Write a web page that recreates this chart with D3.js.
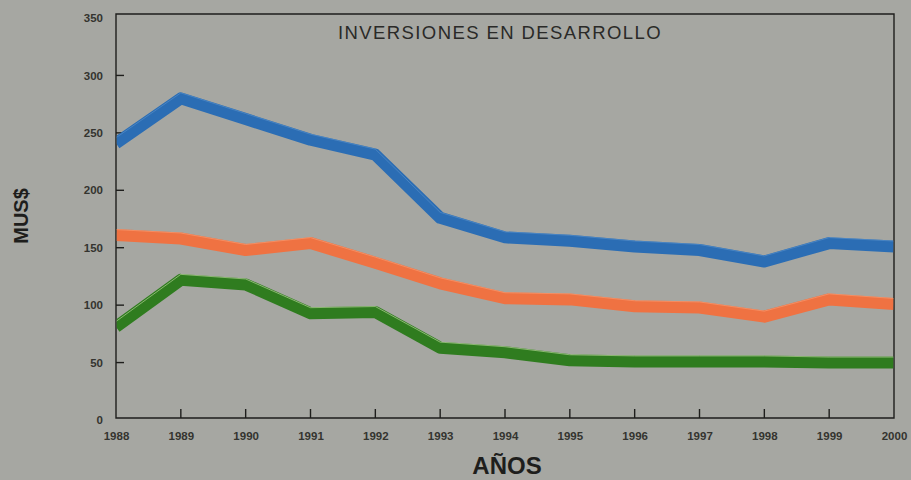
<!DOCTYPE html>
<html><head><meta charset="utf-8">
<script src="https://cdn.jsdelivr.net/npm/d3@7"></script>
<style>
html,body{margin:0;padding:0;background:#a6a7a2;}
svg{display:block;}
</style></head>
<body>
<svg id="chart" width="911" height="480"></svg>
<script>
const years = [1988,1989,1990,1991,1992,1993,1994,1995,1996,1997,1998,1999,2000];
const serieAzul    = [241,280,262,244,231,176,159,156,151,148,138,154,151];
const serieNaranja = [161,158,148,154,137,119,106,105,99,98,90,105,101];
const serieVerde   = [81,122,118,93,94,63,59,52,51,51,51,50,50];
const yTicks = [0,50,100,150,200,250,300,350];
const title = "INVERSIONES EN DESARROLLO";
const yLabel = "MUS$";
const xLabel = "AÑOS";

(function(){
const svg = d3.select("#chart");
const W = 911, H = 480;
svg.append("rect").attr("width",W).attr("height",H).attr("fill","#a6a7a2");

const pL = 116, pR = 894, pT = 14, pB = 418;
const x = d3.scaleLinear().domain([1988,2000]).range([pL,pR]);
const y = d3.scaleLinear().domain([0,350]).range([420,18]);

const ink = "#1e1e1c";
const font = "'Liberation Sans', Arial, sans-serif";

svg.append("path")
  .attr("d",`M${pL},${pT}H${pR}V${pB}H${pL}Z`)
  .attr("fill","none").attr("stroke",ink).attr("stroke-width",1.4);

const yAxis = d3.axisLeft(y).tickValues(yTicks).tickSize(0).tickPadding(13);
const gy = svg.append("g").attr("transform",`translate(${pL},0)`).call(yAxis);
gy.select(".domain").remove();
gy.selectAll("text").attr("font-family",font).attr("font-size",11.5).attr("font-weight","bold").attr("fill","#34342f");
svg.append("g").selectAll("line").data(yTicks.filter(v=>v>0 && v<350)).join("line")
  .attr("x1",pL).attr("x2",pL+8).attr("y1",d=>y(d)).attr("y2",d=>y(d))
  .attr("stroke",ink).attr("stroke-width",1.4);

const xAxis = d3.axisBottom(x).tickValues(years).tickFormat(d3.format("d")).tickSize(0).tickPadding(14);
const gx = svg.append("g").attr("transform",`translate(0,${pB})`).call(xAxis);
gx.select(".domain").remove();
gx.selectAll("text").attr("font-family",font).attr("font-size",11.5).attr("font-weight","bold").attr("fill","#34342f");
svg.append("g").selectAll("line").data(years.slice(1,-1)).join("line")
  .attr("x1",d=>x(d)).attr("x2",d=>x(d)).attr("y1",pB).attr("y2",pB-9)
  .attr("stroke",ink).attr("stroke-width",1.4);

const line = d3.line().x((d,i)=>x(years[i])).y(d=>y(d));
const series = [
  {v:serieAzul, c:"#2b6db4", hl:"#5b93cc"},
  {v:serieNaranja, c:"#ef7242", hl:"#f8a078"},
  {v:serieVerde, c:"#2f7c1f", hl:"#c8e0a8"}
];
svg.append("clipPath").attr("id","plotclip").append("rect")
  .attr("x",pL+0.7).attr("y",pT).attr("width",pR-pL-1.4).attr("height",pB-pT);
const gl = svg.append("g").attr("clip-path","url(#plotclip)");
series.forEach(s=>{
  gl.append("path").attr("d",line(s.v)).attr("fill","none")
    .attr("stroke",s.c).attr("stroke-width",12).attr("stroke-linejoin","round");
  gl.append("path").attr("d",line(s.v)).attr("fill","none")
    .attr("transform","translate(0,-5.5)")
    .attr("stroke",s.hl).attr("stroke-width",1).attr("stroke-opacity",0.6);
});

svg.append("text").attr("x",500).attr("y",39).attr("text-anchor","middle")
  .attr("font-family",font).attr("font-size",18.5).attr("letter-spacing",1.4)
  .attr("fill","#2a2a28").text(title);

svg.append("text").attr("transform","translate(28,216) rotate(-90)").attr("text-anchor","middle")
  .attr("font-family",font).attr("font-size",20).attr("font-weight","bold").attr("fill","#1e1e1c").text(yLabel);
svg.append("text").attr("x",507).attr("y",474).attr("text-anchor","middle")
  .attr("font-family",font).attr("font-size",24).attr("font-weight","bold").attr("fill","#1e1e1c").text(xLabel);
})();
</script>
</body></html>
